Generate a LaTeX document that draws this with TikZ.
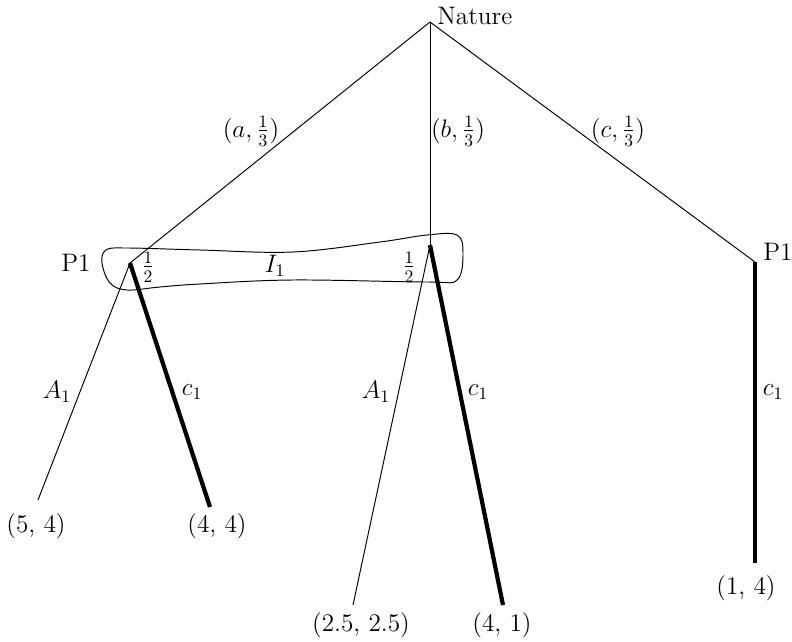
\documentclass[tikz,border=0pt]{standalone}
\usepackage{amsmath}
\usetikzlibrary{positioning}

\begin{document}
\begin{tikzpicture}[x=0.02cm,y=-0.02cm,
    thinedge/.style={line width=0.55pt},
    thickedge/.style={line width=2.4pt},
    lbl/.style={inner sep=0pt, font=\Large}]
    \useasboundingbox (0,0) rectangle (792,642);
    % Decision points
    \coordinate (nature) at (430,22);
    \coordinate (p1l) at (130,263);
    \coordinate (p1m) at (430,245);
    \coordinate (p1r) at (755,262);
    % Terminal points
    \coordinate (t1) at (38,500);
    \coordinate (t2) at (210,507);
    \coordinate (t3) at (353,605);
    \coordinate (t4) at (503,605);
    \coordinate (t5) at (755,563);
    % Information set I_1
    \draw[thinedge] plot[smooth cycle, tension=0.6] coordinates {
        (106,250) (127,248) (200,250) (293,252) (380,242) (427,235)
        (457,235) (463,253) (457,280) (427,282) (293,280) (200,284)
        (160,287) (127,290) (110,283) (102,263)};
    % Nature's moves
    \draw[thinedge] (nature) -- (p1l);
    \draw[thinedge] (nature) -- (p1m);
    \draw[thinedge] (nature) -- (p1r);
    % Player 1's moves
    \draw[thinedge] (p1l) -- (t1);
    \draw[thickedge] (p1l) -- (t2);
    \draw[thinedge] (p1m) -- (t3);
    \draw[thickedge] (p1m) -- (t4);
    \draw[thickedge] (p1r) -- (t5);
    % Labels
    \node[lbl, anchor=base west] (lnat) at (437,25) {Nature};
    \node[lbl] (la) at (251,131) {$(a,\frac{1}{3})$};
    \node[lbl] (lb) at (458,131) {$(b,\frac{1}{3})$};
    \node[lbl] (lc) at (618,131) {$(c,\frac{1}{3})$};
    \node[lbl] (lp1l) at (76,263) {P1};
    \node[lbl] (lp1r) at (778,252) {P1};
    \node[lbl] (lhl) at (148,267) {$\frac{1}{2}$};
    \node[lbl] (lhm) at (409,267) {$\frac{1}{2}$};
    \node[lbl] (li) at (275,266) {$I_1$};
    \node[lbl] (lal) at (57,392) {$A_1$};
    \node[lbl] (lcl) at (192,392) {$c_1$};
    \node[lbl] (lam) at (376,392) {$A_1$};
    \node[lbl] (lcm) at (478,392) {$c_1$};
    \node[lbl] (lcr) at (773,392) {$c_1$};
    % Payoffs
    \node[lbl] (u1) at (36,526) {(5, 4)};
    \node[lbl] (u2) at (217,526) {(4, 4)};
    \node[lbl] (u3) at (361,625) {(2.5, 2.5)};
    \node[lbl] (u4) at (502,625) {(4, 1)};
    \node[lbl] (u5) at (746,588) {(1, 4)};
\end{tikzpicture}
\end{document}
